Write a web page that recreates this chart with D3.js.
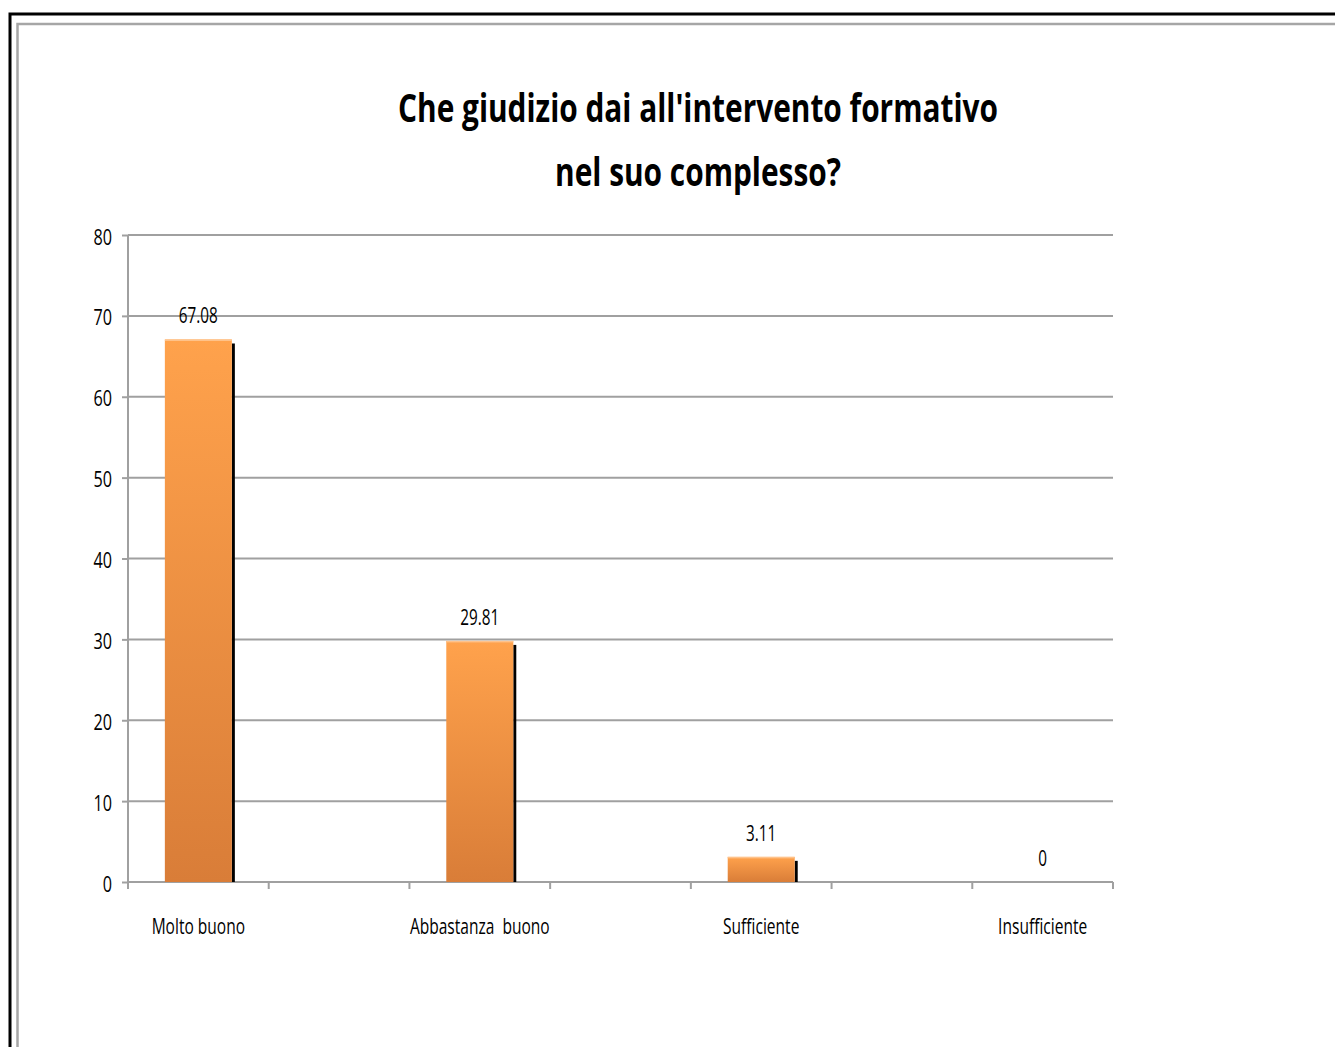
<!DOCTYPE html>
<html><head><meta charset="utf-8">
<script src="https://cdn.jsdelivr.net/npm/d3@7"></script>
<style>
html,body{margin:0;padding:0;background:#fff;overflow:hidden;}
svg{display:block;}
text{font-family:"Open Sans",sans-serif;}
</style></head>
<body>
<script>
const categories = ["Molto buono", "Abbastanza  buono", "Sufficiente", "Insufficiente"];
const values = [67.08, 29.81, 3.11, 0];
const valueLabels = ["67.08", "29.81", "3.11", "0"];
const yTicks = [0, 10, 20, 30, 40, 50, 60, 70, 80];
const titleLines = ["Che giudizio dai all'intervento formativo", "nel suo complesso?"];

const W = 1335, H = 1047;
const svg = d3.select("body").append("svg").attr("width", W).attr("height", H);

// frames
svg.append("rect").attr("x", 10).attr("y", 14).attr("width", W + 20).attr("height", H + 20)
  .attr("fill", "none").attr("stroke", "#000").attr("stroke-width", 3);
svg.append("rect").attr("x", 17.5).attr("y", 24).attr("width", W + 20).attr("height", H + 20)
  .attr("fill", "none").attr("stroke", "#a6a6a6").attr("stroke-width", 2.5);

const x0 = 128, x1 = 1113, y0 = 882, y1 = 235;
const halfSlots = 7;
const step = (x1 - x0) / halfSlots * 2;
const x = d3.scaleBand().domain(categories).range([x0, x0 + step * categories.length]);
const y = d3.scaleLinear().domain([0, 80]).range([y0, y1]);

function narrowText(sel, size, weight) {
  return sel.attr("font-size", size).attr("font-weight", weight || "normal")
    .attr("fill", "#000").attr("text-anchor", "middle");
}

const defs = svg.append("defs");
const grad = defs.append("linearGradient").attr("id", "barGrad").attr("x1", 0).attr("y1", 0).attr("x2", 0).attr("y2", 1);
grad.append("stop").attr("offset", "0%").attr("stop-color", "#FFA24C");
grad.append("stop").attr("offset", "100%").attr("stop-color", "#D97D38");

// gridlines
svg.append("g").selectAll("line").data(yTicks.filter(d => d > 0)).join("line")
  .attr("x1", x0).attr("x2", x1).attr("y1", d => y(d)).attr("y2", d => y(d))
  .attr("stroke", "#a0a0a0").attr("stroke-width", 2);

// y axis
const yAxis = svg.append("g").attr("transform", `translate(${x0},0)`)
  .call(d3.axisLeft(y).tickValues(yTicks).tickSize(6).tickFormat(d3.format("d")));
yAxis.select(".domain").attr("stroke", "#a0a0a0").attr("stroke-width", 2).attr("d", `M0,${y1}V${y0}`);
yAxis.selectAll(".tick line").attr("stroke", "#a0a0a0").attr("stroke-width", 2);
yAxis.selectAll(".tick text")
  .attr("x", null).attr("dy", null).attr("y", null)
  .attr("transform", "translate(-16,9) scale(0.72,1)")
  .attr("font-size", 22.5).attr("fill", "#000").attr("text-anchor", "end")
  .style("font-family", '"Open Sans",sans-serif');

// x axis
const xTickPos = d3.range(halfSlots + 1).map(i => x0 + i * (x1 - x0) / halfSlots);
const xg = svg.append("g");
xg.append("line").attr("x1", x0).attr("x2", x1).attr("y1", y0).attr("y2", y0)
  .attr("stroke", "#a0a0a0").attr("stroke-width", 2);
xg.selectAll("line.t").data(xTickPos).join("line").attr("class", "t")
  .attr("x1", d => d).attr("x2", d => d).attr("y1", y0).attr("y2", y0 + 7)
  .attr("stroke", "#a0a0a0").attr("stroke-width", 2);

const barW = 67;
const cx = c => x(c) + step / 4;

// bars
const bars = svg.append("g").selectAll("g").data(categories.map((c, i) => ({c, v: values[i], l: valueLabels[i]}))).join("g");
bars.filter(d => d.v > 0).append("rect")
  .attr("x", d => cx(d.c) + barW / 2).attr("width", 3)
  .attr("y", d => Math.min(y(d.v) + 4, y0 - 2)).attr("height", d => y0 - Math.min(y(d.v) + 4, y0 - 2))
  .attr("fill", "#000");
bars.filter(d => d.v > 0).append("rect")
  .attr("x", d => cx(d.c) - barW / 2).attr("width", barW)
  .attr("y", d => y(d.v)).attr("height", d => y0 - y(d.v))
  .attr("fill", "url(#barGrad)");
bars.filter(d => d.v > 0).append("rect")
  .attr("x", d => cx(d.c) - barW / 2).attr("width", barW)
  .attr("y", d => y(d.v)).attr("height", 1.5)
  .attr("fill", "#FFC28A");

// value labels
narrowText(bars.append("text"), 22.5)
  .attr("transform", d => `translate(${cx(d.c)},${y(d.v) - 16}) scale(0.68,1)`)
  .text(d => d.l);

// category labels
narrowText(svg.append("g").selectAll("text").data(categories).join("text"), 21)
  .attr("transform", d => `translate(${cx(d)},934) scale(0.74,1)`)
  .attr("xml:space", "preserve").style("white-space", "pre").text(d => d);

// title
narrowText(svg.append("g").selectAll("text").data(titleLines).join("text"), 39, "bold")
  .attr("transform", (d, i) => `translate(698,${122 + i * 64}) scale(0.765,1)`)
  .text(d => d);
</script>
</body></html>
